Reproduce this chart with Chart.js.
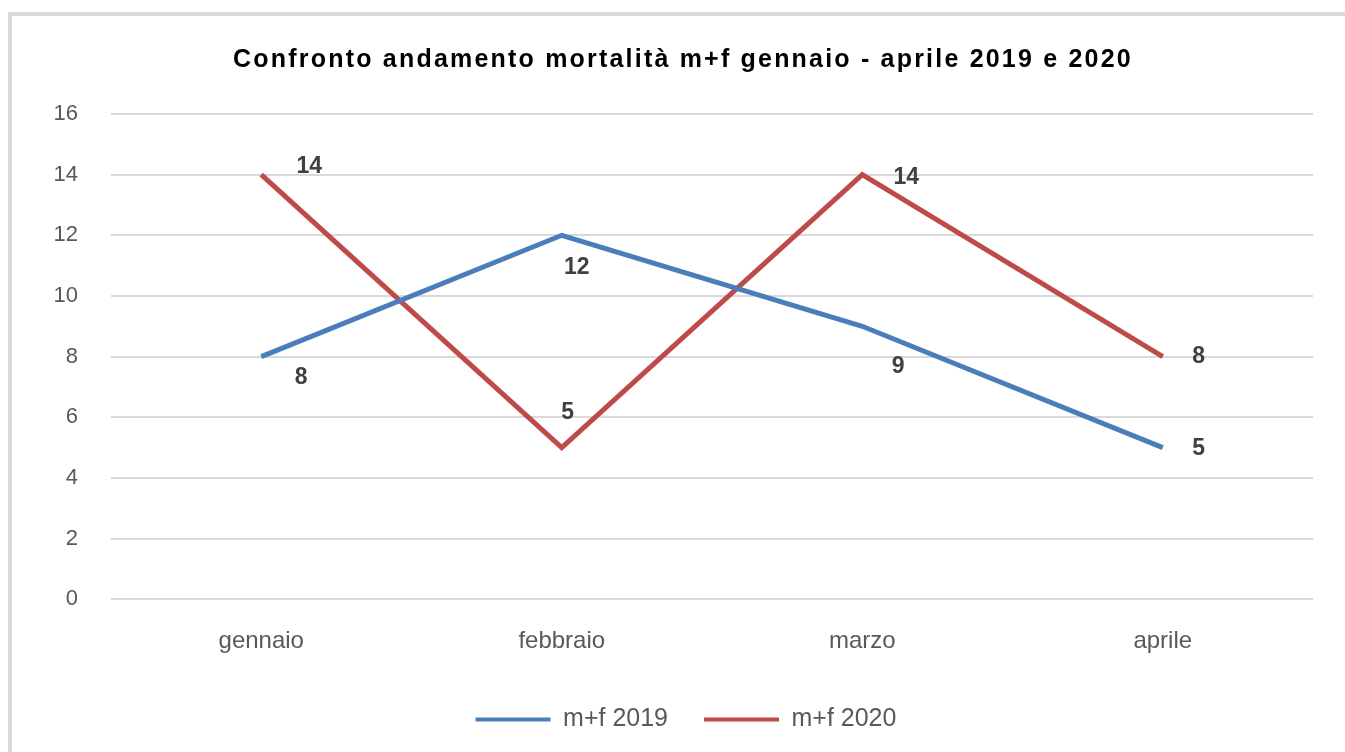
<!DOCTYPE html>
<html>
<head>
<meta charset="utf-8">
<script src="https://cdn.jsdelivr.net/npm/chart.js@4"></script>
<style>
    html, body { margin: 0; padding: 0; overflow: hidden; background: #fff; }
    #frame { position: absolute; left: 8px; top: 12px; width: 1345px; height: 760px; border: 4px solid #d9d9d9; background: #fff; }
    #wrap { position: absolute; left: 0; top: 0; width: 1340px; height: 740px; }
</style>
</head>
<body>
<div id="frame"><div id="wrap"><canvas id="chart"></canvas></div></div>
<script>
// data
const months = ["gennaio", "febbraio", "marzo", "aprile"];
const series_names = ["m+f 2019", "m+f 2020"];
const values_2019 = [8, 12, 9, 5];
const values_2020 = [14, 5, 14, 8];
const chart_title = "Confronto andamento mortalità m+f gennaio - aprile 2019 e 2020";

// label offsets (px) from each point, per dataset
const label_offsets = [
    [[40, 21], [15, 32], [36, 40], [36, 1]],
    [[48, -8], [6, -35], [44, 3], [36, 0]]
];

const FONT = "'Liberation Sans', Arial, sans-serif";

const dataLabels = {
    id: "dataLabels",
    afterDatasetsDraw(chart) {
        const ctx = chart.ctx;
        ctx.save();
        ctx.font = "bold 23px " + FONT;
        ctx.fillStyle = "#404040";
        ctx.textAlign = "center";
        ctx.textBaseline = "middle";
        chart.data.datasets.forEach((ds, i) => {
            chart.getDatasetMeta(i).data.forEach((pt, j) => {
                const off = label_offsets[i][j];
                ctx.fillText(ds.data[j], pt.x + off[0], pt.y + off[1]);
            });
        });
        ctx.restore();
    }
};

// title drawn by hand so it can be letter-spaced like the original
const spacedTitle = {
    id: "spacedTitle",
    afterDraw(chart) {
        const box = chart.titleBlock;
        const ctx = chart.ctx;
        ctx.save();
        ctx.font = "bold 25px " + FONT;
        ctx.fillStyle = "#000";
        ctx.letterSpacing = "2.2px";
        ctx.textAlign = "center";
        ctx.textBaseline = "middle";
        ctx.fillText(chart_title, (box.left + box.right) / 2 - 3, box.top + 29 + 15);
        ctx.restore();
    }
};

new Chart("chart", {
    type: "line",
    data: {
        labels: months,
        datasets: [{
            label: series_names[0],
            data: values_2019,
            borderColor: "#4a7ebb",
            backgroundColor: "#4a7ebb",
            borderWidth: 5,
            pointRadius: 0,
            tension: 0
        }, {
            label: series_names[1],
            data: values_2020,
            borderColor: "#be4b48",
            backgroundColor: "#be4b48",
            borderWidth: 5,
            pointRadius: 0,
            tension: 0
        }]
    },
    options: {
        animation: false,
        responsive: true,
        maintainAspectRatio: false,
        layout: { padding: { left: 8, right: 0, top: 0, bottom: 14 } },
        plugins: {
            title: {
                display: true,
                text: chart_title,
                color: "rgba(0,0,0,0)",
                font: { family: FONT, size: 25, weight: "bold" },
                padding: { top: 29, bottom: 39 }
            },
            legend: {
                position: "bottom",
                labels: {
                    boxWidth: 75,
                    boxHeight: 4,
                    padding: 36,
                    color: "#595959",
                    font: { family: FONT, size: 25 },
                    generateLabels(chart) {
                        return chart.data.datasets.map((ds, i) => ({
                            text: ds.label,
                            fillStyle: ds.borderColor,
                            strokeStyle: ds.borderColor,
                            lineWidth: 0,
                            fontColor: "#595959",
                            datasetIndex: i
                        }));
                    }
                }
            },
            tooltip: { enabled: false }
        },
        scales: {
            x: {
                offset: true,
                afterFit: (scale) => { scale.height -= 5; },
                grid: { display: false },
                border: { display: false },
                ticks: { color: "#595959", padding: 20, font: { family: FONT, size: 24 } }
            },
            y: {
                min: 0,
                max: 16,
                afterFit: (scale) => { scale.width = 91; },
                grid: { color: "#d9d9d9", lineWidth: 2, drawTicks: false },
                border: { display: false },
                ticks: { stepSize: 2, color: "#595959", padding: 33, font: { family: FONT, size: 22 } }
            },
            // empty right-hand margin, keeps title and legend centred like the original
            yRight: {
                position: "right",
                afterFit: (scale) => { scale.width = 39; },
                grid: { display: false },
                border: { display: false },
                ticks: { display: false }
            }
        }
    },
    plugins: [dataLabels, spacedTitle]
});
</script>
</body>
</html>
